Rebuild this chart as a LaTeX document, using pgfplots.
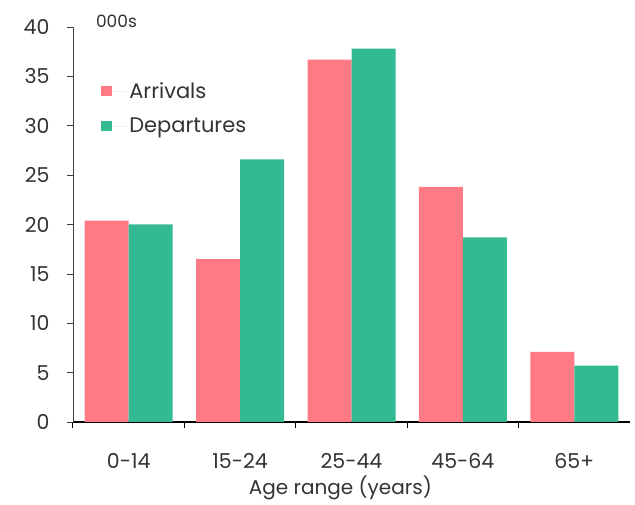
\documentclass[border=0pt]{standalone}
\usepackage{pgfplots}
\pgfplotsset{compat=1.18}
\usepackage{fontspec}
\setmainfont{Poppins}
\definecolor{arr}{RGB}{255,122,132}
\definecolor{dep}{RGB}{52,186,146}
\begin{document}
\begin{tikzpicture}[x=1pt,y=1pt]
\path[use as bounding box] (-73,-83) rectangle (562,422);
\begin{axis}[
  at={(0,0)}, anchor=south west,
  scale only axis, width=557pt, height=395pt,
  ymin=0, ymax=40, xmin=-0.5, xmax=4.5,
  axis lines*=left,
  x axis line style={line width=1.6pt, black},
  y axis line style={line width=0.7pt, black!75},
  ytick={0,5,...,40},
  xtick={0,1,2,3,4},
  xticklabels={0-14,15-24,25-44,45-64,65+},
  major x tick style={draw=none},
  minor xtick={-0.5,0.5,1.5,2.5,3.5},
  minor x tick style={line width=1pt, black},
  minor tick length=6pt,
  major tick length=6pt,
  y tick style={line width=0.7pt, black!75},
  tick align=outside,
  /pgf/number format/assume math mode=true,
  ticklabel style={font=\fontsize{20.5}{24}\selectfont, text=black!80},
  yticklabel style={xshift=-14pt},
  xticklabel style={yshift=-22pt},
  xlabel={Age range (years)},
  xlabel style={at={(axis description cs:0.48,0)}, anchor=center, yshift=-66pt,
    font=\fontsize{20}{24}\selectfont, text=black!80},
  ybar, bar width=44pt,
  legend cell align=left,
  legend style={draw=none, fill=none, at={(0.045,0.87)}, anchor=north west,
    font=\fontsize{21}{25}\selectfont, text=black!80, row sep=14pt},
  legend image code/.code={\fill[#1] (0pt,-5pt) rectangle (11pt,5pt); \path (0pt,0pt) -- (26pt,0pt);},
  clip=false,
]
\addplot[fill=arr, draw=none, bar shift=-22pt] coordinates {(0,20.4) (1,16.5) (2,36.7) (3,23.8) (4,7.1)};
\addplot[fill=dep, draw=none, bar shift=22pt] coordinates {(0,20.0) (1,26.6) (2,37.8) (3,18.7) (4,5.7)};
\legend{Arrivals, Departures}
\node[anchor=west, font=\fontsize{17}{20}\selectfont, text=black!80] at (rel axis cs:0.035,1) [yshift=6pt] {000s};
\end{axis}
\end{tikzpicture}
\end{document}
